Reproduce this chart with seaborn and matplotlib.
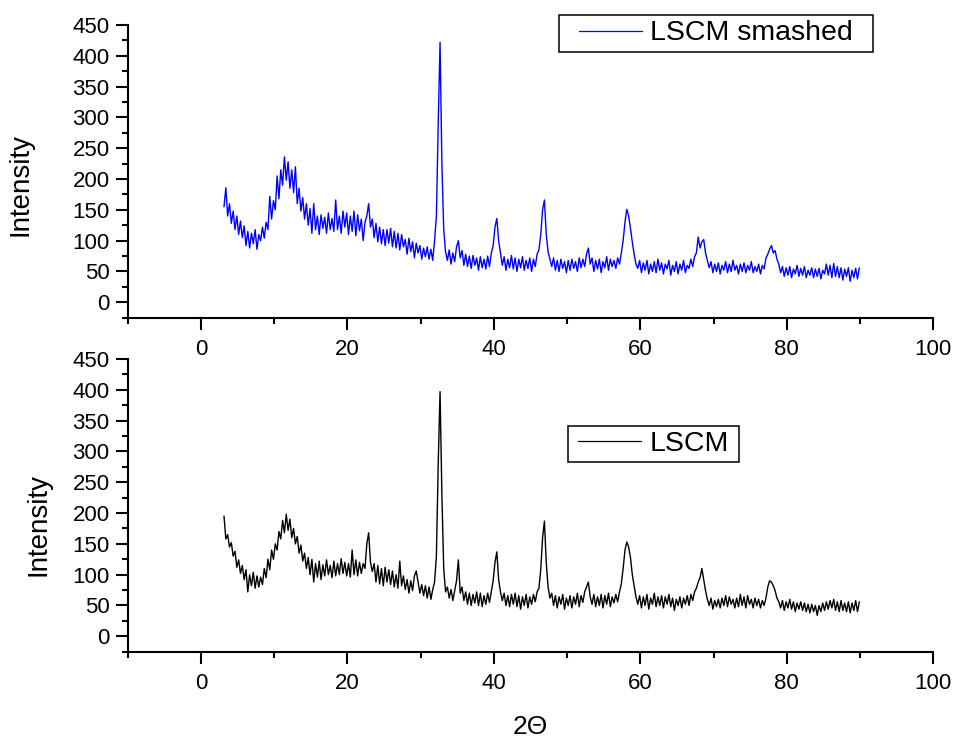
import numpy as np
import pandas as pd
import matplotlib
matplotlib.use("Agg")
import matplotlib.pyplot as plt
from matplotlib.ticker import MultipleLocator
from matplotlib.patches import Rectangle
import seaborn as sns

# ---- data ----
two_theta_start = 3.15
two_theta_step = 0.25

smashed_intensity = [
    155, 186, 140, 160, 128, 148, 118, 140, 110, 132, 105, 124, 92, 115, 88, 112, 95, 118, 86, 110,
    100, 122, 104, 130, 118, 172, 135, 165, 150, 205, 168, 215, 190, 236, 198, 228, 185, 215, 178, 220,
    160, 185, 148, 170, 135, 160, 125, 152, 112, 160, 118, 140, 110, 142, 120, 138, 112, 145, 118, 136,
    115, 166, 118, 140, 112, 148, 122, 145, 110, 140, 115, 148, 108, 142, 116, 135, 100, 130, 140, 160,
    122, 135, 105, 128, 98, 122, 95, 118, 92, 118, 96, 120, 90, 115, 88, 112, 85, 110, 90, 102,
    78, 104, 82, 98, 72, 96, 80, 92, 70, 88, 74, 90, 70, 86, 68, 100, 140, 290, 422, 225,
    118, 82, 68, 85, 62, 80, 66, 90, 100, 72, 84, 60, 78, 58, 75, 55, 76, 60, 72, 52,
    74, 56, 70, 54, 75, 58, 80, 92, 122, 136, 100, 80, 60, 74, 52, 70, 56, 76, 54, 72,
    50, 70, 56, 74, 52, 68, 55, 72, 50, 70, 58, 78, 85, 110, 150, 166, 110, 82, 70, 58,
    72, 52, 68, 50, 70, 55, 66, 48, 68, 52, 70, 55, 66, 50, 72, 56, 70, 58, 78, 88,
    62, 72, 50, 68, 54, 70, 48, 66, 56, 74, 52, 70, 58, 68, 55, 72, 62, 80, 100, 130,
    151, 140, 120, 98, 78, 62, 55, 68, 48, 64, 52, 68, 46, 62, 50, 66, 48, 70, 52, 64,
    46, 62, 54, 68, 44, 60, 50, 66, 46, 62, 52, 68, 48, 60, 55, 70, 58, 74, 80, 106,
    88, 98, 102, 80, 68, 56, 66, 48, 62, 50, 64, 46, 60, 52, 66, 48, 62, 50, 68, 52,
    60, 46, 62, 50, 64, 48, 60, 52, 66, 48, 58, 50, 62, 46, 60, 54, 72, 78, 86, 92,
    80, 84, 70, 62, 48, 58, 42, 56, 44, 58, 40, 54, 46, 60, 42, 55, 44, 58, 40, 52,
    44, 56, 40, 54, 42, 55, 38, 52, 46, 62, 44, 60, 40, 63, 42, 58, 40, 56, 36, 54,
    42, 56, 34, 52, 40, 55, 38, 56,
]

lscm_intensity = [
    195, 158, 165, 145, 152, 130, 138, 112, 124, 102, 115, 92, 108, 72, 100, 82, 104, 78, 98, 80,
    96, 84, 110, 95, 125, 108, 140, 125, 150, 140, 170, 158, 188, 168, 198, 172, 190, 160, 175, 150,
    162, 135, 148, 122, 135, 110, 128, 100, 125, 88, 118, 96, 122, 92, 116, 98, 124, 100, 115, 95,
    122, 98, 118, 100, 126, 102, 120, 98, 118, 96, 140, 100, 124, 98, 120, 102, 118, 110, 150, 168,
    120, 105, 118, 88, 115, 85, 110, 82, 112, 88, 108, 84, 106, 80, 100, 78, 122, 82, 98, 76,
    92, 70, 90, 74, 98, 106, 88, 70, 84, 66, 82, 62, 80, 60, 76, 88, 130, 280, 397, 230,
    110, 72, 80, 62, 76, 58, 74, 90, 124, 70, 80, 58, 72, 52, 70, 50, 68, 54, 72, 50,
    70, 48, 66, 52, 70, 55, 72, 90, 120, 137, 92, 72, 58, 70, 50, 66, 48, 68, 52, 70,
    48, 66, 44, 64, 50, 68, 46, 64, 52, 68, 56, 72, 78, 108, 160, 187, 120, 80, 62, 70,
    50, 66, 46, 64, 52, 68, 44, 62, 50, 66, 46, 64, 52, 70, 48, 66, 55, 72, 80, 88,
    64, 52, 68, 48, 64, 50, 68, 46, 66, 52, 70, 48, 64, 54, 68, 56, 72, 85, 110, 140,
    153, 145, 128, 100, 82, 64, 52, 66, 46, 64, 50, 68, 44, 62, 52, 70, 48, 64, 50, 66,
    46, 64, 52, 68, 48, 62, 42, 60, 50, 64, 46, 62, 52, 66, 50, 68, 58, 72, 78, 88,
    95, 110, 92, 74, 60, 50, 62, 44, 58, 48, 60, 46, 62, 50, 66, 48, 64, 52, 60, 46,
    62, 48, 68, 50, 64, 46, 66, 52, 60, 46, 62, 50, 60, 46, 58, 50, 62, 80, 90, 88,
    82, 74, 62, 56, 46, 58, 42, 56, 46, 60, 44, 56, 40, 54, 44, 56, 42, 54, 40, 52,
    38, 52, 40, 50, 34, 50, 40, 54, 42, 56, 44, 58, 46, 60, 42, 56, 40, 58, 42, 54,
    40, 56, 38, 54, 42, 58, 40, 56,
]

series_labels = ["LSCM smashed", "LSCM"]
series_colors = ["#0000ff", "#000000"]
y_label = "Intensity"
x_label = "2\u0398"

two_theta = two_theta_start + two_theta_step * np.arange(len(smashed_intensity))
df_top = pd.DataFrame({"two_theta": two_theta, "intensity": smashed_intensity})
df_bot = pd.DataFrame({"two_theta": two_theta, "intensity": lscm_intensity})

# ---- style ----
sns.set_style("ticks")
plt.rcParams["font.family"] = ["Liberation Sans", "DejaVu Sans"]
plt.rcParams["axes.linewidth"] = 1.5
plt.rcParams["text.color"] = "black"
plt.rcParams["axes.labelcolor"] = "black"
plt.rcParams["xtick.color"] = "black"
plt.rcParams["ytick.color"] = "black"
plt.rcParams["axes.edgecolor"] = "black"

fig = plt.figure(figsize=(9.57, 7.40), dpi=100)
W, H = 957, 740
left, right = 127.7 / W, 933.3 / W
ax_top = fig.add_axes([left, 1 - 317.7 / H, right - left, (317.7 - 25) / H])
ax_bot = fig.add_axes([left, 1 - 651.7 / H, right - left, (651.7 - 359) / H])

for ax, df, lab, col in [(ax_top, df_top, series_labels[0], series_colors[0]),
                         (ax_bot, df_bot, series_labels[1], series_colors[1])]:
    sns.lineplot(data=df, x="two_theta", y="intensity", ax=ax, color=col,
                 linewidth=1.0, estimator=None, label=lab)
    ax.set_xlim(-10, 100)
    ax.set_ylim(-25, 450)
    ax.xaxis.set_major_locator(MultipleLocator(20))
    ax.xaxis.set_minor_locator(MultipleLocator(10))
    ax.yaxis.set_major_locator(MultipleLocator(50))
    ax.yaxis.set_minor_locator(MultipleLocator(25))
    for s in ["top", "right"]:
        ax.spines[s].set_visible(False)
    for s in ["left", "bottom"]:
        ax.spines[s].set_linewidth(1.5)
        ax.spines[s].set_color("black")
    ax.tick_params(axis="both", which="major", direction="out", length=8.6, width=1.5,
                   labelsize=16, colors="black")
    ax.tick_params(axis="both", which="minor", direction="out", length=4.3, width=1.5,
                   colors="black")
    ax.tick_params(axis="x", which="major", pad=7)
    ax.tick_params(axis="y", which="major", pad=4.5)
    ax.set_ylabel(y_label, fontsize=20, color="black")
    ax.set_xlabel("")
    ax.grid(False)

ax_top.yaxis.set_label_coords((34 - 127.7) / 805.6, (317.7 - 185) / 292.7)
ax_bot.yaxis.set_label_coords((51 - 127.7) / 805.6, (651.7 - 524.5) / 292.7)
ax_bot.set_xlabel(x_label, fontsize=19, color="black")
ax_bot.xaxis.label.set_va("baseline")
ax_bot.xaxis.set_label_coords(0.5, (651.7 - 733.5) / 292.7)

# legends: box drawn as a rectangle in figure pixels, entries placed inside
legend_boxes = [(ax_top, (559, 15, 873, 52), 579), (ax_bot, (568, 426, 739, 462), 578)]
for ax, (x0, y0, x1, y1), hx in legend_boxes:
    leg = ax.legend(loc="center left", bbox_to_anchor=(hx / W, 1 - (y0 + y1) / 2 / H),
                    bbox_transform=fig.transFigure, borderaxespad=0, borderpad=0,
                    fontsize=20.5, frameon=False, labelcolor="black",
                    handlelength=2.2, handletextpad=0.3)
    for h in leg.get_lines():
        h.set_linewidth(0.9)
    fig.patches.append(Rectangle((x0 / W, 1 - y1 / H), (x1 - x0) / W, (y1 - y0) / H,
                                 transform=fig.transFigure, fill=False,
                                 edgecolor="black", linewidth=1.1, zorder=5))

fig.savefig("out.png", dpi=100)
